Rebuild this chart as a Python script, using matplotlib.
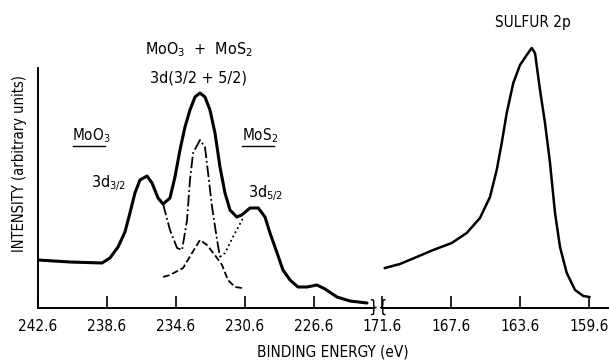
import numpy as np
import matplotlib
matplotlib.use("Agg")
import matplotlib.pyplot as plt
from matplotlib.lines import Line2D

plt.rcParams['font.family'] = ['DejaVu Sans']
plt.rcParams['font.stretch'] = 'condensed'
plt.rcParams['mathtext.default'] = 'regular'

# Mo 3d region (solid envelope)
mo_e = [242.6, 240.74, 238.89, 238.43, 237.96, 237.56, 237.27, 236.98, 236.69, 236.28,
        235.99, 235.64, 235.35, 234.95, 234.66, 234.37, 234.08, 233.79, 233.50, 233.21,
        232.92, 232.63, 232.34, 232.05, 231.76, 231.47, 231.08, 230.79, 230.31, 229.83,
        229.44, 229.15, 228.74, 228.40, 227.99, 227.53, 227.01, 226.43, 225.96, 225.27,
        224.51, 223.53]
mo_i = [48, 46, 45, 50, 61, 76, 95, 115, 128, 132,
        125, 110, 104, 110, 131, 158, 181, 198, 211, 215,
        211, 198, 175, 141, 115, 98, 91, 93, 100, 100,
        91, 75, 55, 38, 28, 21, 21, 23, 19, 11,
        7, 5]

# deconvolution components
w_e = [235.35, 235.18, 234.95, 234.54, 234.25, 233.96, 233.79, 233.61, 233.21, 232.92,
       232.74, 232.51, 232.22, 232.05]
w_i = [104, 93, 78, 60, 58, 88, 128, 155, 168, 161,
       135, 101, 68, 51]
dot_e = [232.05, 231.76, 231.30, 230.77, 230.72]
dot_i = [51, 55, 71, 88, 92]
dash_e = [235.35, 234.95, 234.19, 233.67, 233.21, 232.80, 232.22, 231.93, 231.59, 231.18, 230.77]
dash_i = [31, 33, 40, 55, 68, 63, 50, 43, 28, 21, 20]

# S 2p region
s_e = [171.43, 170.56, 169.59, 168.63, 167.56, 166.69, 165.92, 165.34, 164.95, 164.66,
       164.37, 163.99, 163.60, 163.21, 162.92, 162.73, 162.44, 162.15, 161.86, 161.57,
       161.28, 160.89, 160.41, 159.93, 159.58]
s_i = [40, 44, 51, 58, 65, 75, 90, 111, 138, 165,
       195, 225, 243, 253, 260, 255, 218, 185, 145, 95,
       61, 35, 18, 12, 11]

left_ticks = [242.6, 238.6, 234.6, 230.6, 226.6]
right_ticks = [171.6, 167.6, 163.6, 159.6]

fig = plt.figure(figsize=(6.09, 3.63), dpi=100)
ax1 = fig.add_axes([38/609, 55/363, 335/609, 288/363])
ax2 = fig.add_axes([382/609, 55/363, 226/609, 288/363])

ax1.plot(mo_e, mo_i, color='black', lw=2.2, solid_capstyle='round', solid_joinstyle='round')
ax1.plot(w_e, w_i, color='black', lw=1.3, ls='-.')
ax1.plot(dot_e, dot_i, color='black', lw=1.3, ls=':')
ax1.plot(dash_e, dash_i, color='black', lw=1.3, ls='--')
ax2.plot(s_e, s_i, color='black', lw=1.8, solid_joinstyle='round')

ax1.set_xlim(242.6, 242.6 - 335/17.25)
ax2.set_xlim(171.6, 171.6 - 226/17.25)
for ax in (ax1, ax2):
    ax.set_ylim(0, 288)
    ax.set_yticks([])
    ax.spines['top'].set_visible(False)
    ax.spines['right'].set_visible(False)
    ax.spines['bottom'].set_linewidth(1.4)
    ax.tick_params(axis='x', direction='in', length=9, width=1.2, pad=8, labelsize=11)
ax2.spines['left'].set_visible(False)
ax1.spines['left'].set_bounds(0, 240)
ax1.spines['left'].set_linewidth(1.4)

ax1.set_xticks(left_ticks)
ax1.set_xticklabels(['%.1f' % t for t in left_ticks])
ax2.set_xticks(right_ticks)
ax2.set_xticklabels(['%.1f' % t for t in right_ticks])

# break marks
ax1.text(1.0, 0, '}', transform=ax1.transAxes, ha='center', va='center', fontsize=12)
ax2.text(0.0, 0, '{', transform=ax2.transAxes, ha='center', va='center', fontsize=12)

ax1.set_ylabel('INTENSITY (arbitrary units)', fontsize=10.5, labelpad=8)
fig.text(333/609, 1 - 352/363, 'BINDING ENERGY (eV)', ha='center', va='center', fontsize=11)

ax1.text(233.3, 258, r'MoO$_3$  +  MoS$_2$', ha='center', va='center', fontsize=11.5)
ax1.text(233.3, 230, '3d(3/2 + 5/2)', ha='center', va='center', fontsize=11.5)
ax1.text(240.6, 172, r'MoO$_3$', ha='left', va='center', fontsize=11)
ax1.text(239.5, 125, r'3d$_{3/2}$', ha='left', va='center', fontsize=11.5)
ax1.text(230.8, 172, r'MoS$_2$', ha='left', va='center', fontsize=11)
ax1.text(230.4, 115, r'3d$_{5/2}$', ha='left', va='center', fontsize=11.5)
ax2.text(162.85, 285, 'SULFUR 2p', ha='center', va='center', fontsize=11)

# underlines below MoO3 / MoS2
for x0, x1 in [(240.6, 238.7), (230.8, 228.9)]:
    ax1.add_line(Line2D([x0, x1], [162, 162], color='black', lw=1.0))

fig.savefig('out.png', dpi=100)
